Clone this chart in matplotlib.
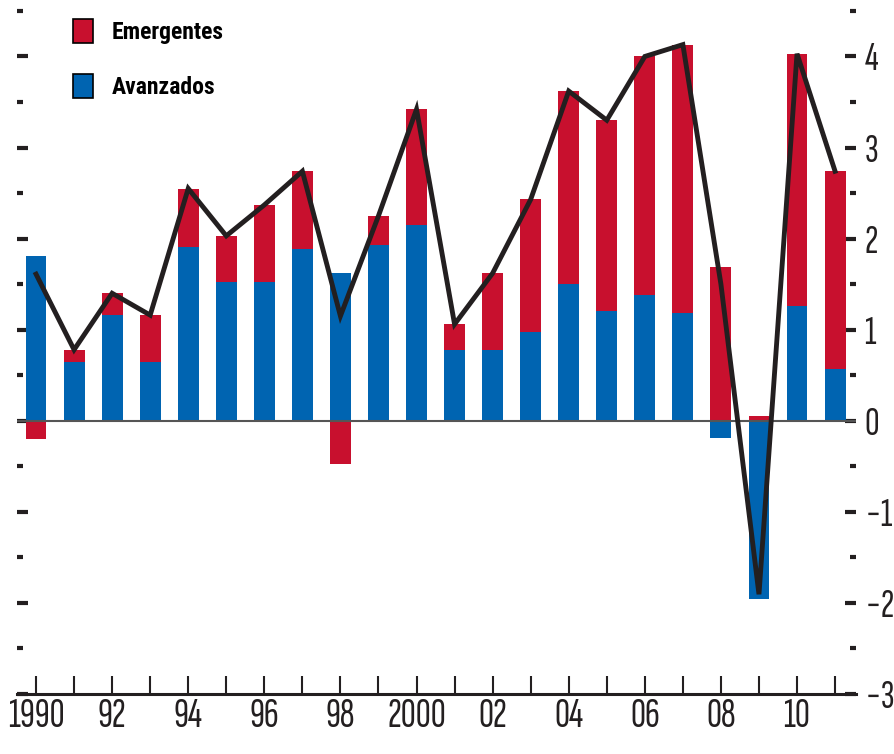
import matplotlib.pyplot as plt
import numpy as np
from matplotlib.ticker import MultipleLocator

years = np.arange(1990, 2012)
# contribution to growth, percentage points
avanzados = [1.81, 0.65, 1.16, 0.65, 1.91, 1.52, 1.52, 1.89, 1.62, 1.93, 2.15,
             0.78, 0.78, 0.98, 1.50, 1.20, 1.38, 1.18, -0.19, -1.96, 1.26, 0.57]
emergentes = [-0.20, 0.13, 0.24, 0.51, 0.64, 0.51, 0.85, 0.85, -0.47, 0.32, 1.27,
              0.28, 0.84, 1.45, 2.12, 2.10, 2.62, 2.95, 1.69, 0.055, 2.77, 2.17]
xlabels = ['1990', '', '92', '', '94', '', '96', '', '98', '', '2000',
           '', '02', '', '04', '', '06', '', '08', '', '10', '']

RED = '#C8102E'
BLUE = '#0064B1'
INK = '#231F20'
FONT = ['Sofia Sans Extra Condensed', 'Roboto Condensed', 'DejaVu Sans']
LEGFONT = ['Roboto Condensed', 'DejaVu Sans']

plt.rcParams['font.family'] = FONT

av = np.array(avanzados)
em = np.array(emergentes)
# red stacks on blue when both have the same sign
em_bottom = np.where(np.sign(av) == np.sign(em), av, 0)
total = av + em

fig = plt.figure(figsize=(8.94, 7.54), dpi=100)
ax = fig.add_axes([17/894, 60/754, (856-17)/894, 694/754])

ax.bar(years, av, width=0.55, color=BLUE, label='Avanzados', zorder=2)
ax.bar(years, em, width=0.55, bottom=em_bottom, color=RED, label='Emergentes', zorder=2)
ax.axhline(0, color='#555555', lw=1.5, zorder=3)
ax.plot(years, total, color=INK, lw=3.5, zorder=4, solid_joinstyle='miter')

ax.set_xlim(1989.5, 2011.55)
ax.set_ylim(-3, 4.62)

for s in ['top', 'left', 'right']:
    ax.spines[s].set_visible(False)
ax.spines['bottom'].set_linewidth(2.2)
ax.spines['bottom'].set_color(INK)

ax.set_xticks(years)
ax.set_xticklabels(xlabels)
ax.tick_params(axis='x', direction='in', length=13, width=1.5, color=INK,
               labelsize=30, pad=3, labelcolor=INK)

ax.yaxis.set_major_locator(MultipleLocator(1))
ax.yaxis.set_minor_locator(MultipleLocator(0.5))
ax.tick_params(axis='y', which='both', direction='in', left=True, right=True,
               labelleft=False, labelright=True, color=INK, width=3)
ax.tick_params(axis='y', which='major', length=8, labelsize=29, pad=6, labelcolor=INK)
ax.tick_params(axis='y', which='minor', length=4.5)

handles, labels = ax.get_legend_handles_labels()
leg = ax.legend(handles[::-1], labels[::-1], loc='upper left',
                bbox_to_anchor=(73/894, 1 - 19/754), bbox_transform=fig.transFigure,
                borderaxespad=0, borderpad=0, frameon=False,
                handlelength=0.85, handleheight=1.19, handletextpad=0.8,
                labelspacing=1.25,
                prop={'family': LEGFONT, 'weight': 'bold', 'size': 17})
for p in leg.get_patches():
    p.set_edgecolor('black')
    p.set_linewidth(1.2)

fig.savefig('out.png', dpi=100)
